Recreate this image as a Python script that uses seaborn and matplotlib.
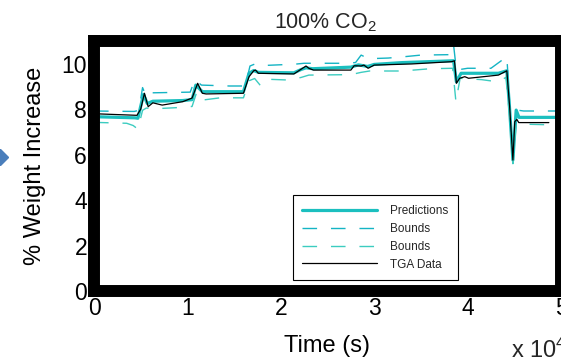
import matplotlib
matplotlib.use("Agg")
import matplotlib.pyplot as plt
import seaborn as sns
import pandas as pd
from matplotlib.lines import Line2D

sns.set_style("white")
plt.rcParams["font.family"] = ["Liberation Sans", "DejaVu Sans"]
plt.rcParams["mathtext.fontset"] = "custom"
plt.rcParams["mathtext.rm"] = "Liberation Sans"
plt.rcParams["mathtext.it"] = "Liberation Sans:italic"
plt.rcParams["mathtext.bf"] = "Liberation Sans:bold"

# ---------------- data ----------------
tga_t = [0, 4600, 5000, 5400, 5800, 6300, 7300, 9500, 10500, 11100, 11600, 12000,
         16000, 16600, 17100, 17300, 17600, 21400, 22700, 23000, 23500, 27500, 27850,
         28600, 28900, 29350, 30000, 34000, 38300, 38600, 38800, 39150, 39700, 40100,
         43300, 44200, 44500, 44850, 45050, 45270, 45480, 48700]
tga_v = [7.80, 7.73, 8.00, 8.70, 8.11, 8.28, 8.18, 8.33, 8.49, 9.14, 8.70, 8.67,
         8.70, 9.43, 9.69, 9.72, 9.58, 9.55, 9.90, 9.80, 9.72, 9.72, 9.91,
         9.90, 9.94, 9.80, 9.94, 9.99, 10.09, 10.13, 9.14, 9.36, 9.43, 9.36,
         9.50, 9.69, 8.11, 5.76, 7.45, 7.55, 7.41, 7.41]

pred_t = [0, 4400, 4700, 5300, 5700, 6300, 9500, 10500, 10900, 11600, 16000, 16600,
          17100, 17600, 21400, 22200, 22700, 23400, 27500, 28300, 29300, 30000, 33000,
          38500, 38800, 39300, 43300, 44200, 44500, 44850, 45200, 45500, 50000]
pred_v = [7.67, 7.62, 7.60, 8.65, 8.25, 8.35, 8.38, 8.42, 9.06, 8.77, 8.77, 9.58,
          9.70, 9.62, 9.60, 9.75, 9.82, 9.78, 9.85, 9.95, 9.88, 9.97, 10.05,
          10.13, 9.20, 9.58, 9.58, 9.69, 8.00, 5.76, 7.96, 7.64, 7.64]

upper_t = [0, 4300, 4800, 5200, 5600, 6200, 10300, 10800, 11500, 14500, 16200, 16700,
           17300, 18000, 21500, 22500, 26500, 28000, 28600, 29400, 31500, 33000, 35000,
           38200, 38500, 38800, 40000, 42500, 44200, 44500, 44850, 45300, 46000, 50000]
upper_v = [7.92, 7.90, 7.95, 8.95, 8.55, 8.72, 8.75, 9.30, 9.06, 9.02, 9.02, 9.90,
           10.00, 9.92, 9.98, 10.02, 10.02, 10.05, 10.38, 10.22, 10.25, 10.30, 10.38,
           10.40, 10.82, 9.72, 9.80, 9.80, 10.31, 8.30, 5.90, 7.96, 7.92, 7.92]

lower_t = [0, 3500, 4200, 4700, 5200, 5600, 6500, 9500, 10500, 11000, 11600, 13500,
           16000, 16600, 17200, 17800, 18400, 21000, 22200, 23000, 27500, 28600, 29500,
           33000, 36000, 38400, 38750, 39200, 41500, 43300, 44100, 44500, 44850, 45200, 50000]
lower_v = [7.42, 7.38, 7.28, 7.12, 7.95, 8.05, 8.02, 8.08, 8.12, 8.75, 8.40, 8.50,
           8.50, 9.25, 9.35, 9.05, 9.32, 9.28, 9.40, 9.50, 9.52, 9.62, 9.68,
           9.68, 9.78, 9.80, 8.33, 9.36, 9.30, 9.20, 9.40, 7.70, 5.60, 7.35, 7.30]

x_ticks = [0, 10000, 20000, 30000, 40000, 50000]
x_tick_labels = ["0", "1", "2", "3", "4", "5"]
y_ticks = [0, 2, 4, 6, 8, 10]

# ---------------- figure ----------------
W, H = 561, 361
fig = plt.figure(figsize=(W / 100, H / 100), dpi=100)
x0, x1, ytop, ybot = 94, 561, 41, 291
ax = fig.add_axes([x0 / W, (H - ybot) / H, (x1 - x0) / W, (ybot - ytop) / H])

pred_c = "#1BBFBF"
b1_c = "#14B4C4"
b2_c = "#3CCCC0"

sns.lineplot(x=pred_t, y=pred_v, ax=ax, color=pred_c, lw=2.3, estimator=None,
             sort=False, label="Predictions")
sns.lineplot(x=upper_t, y=upper_v, ax=ax, color=b1_c, lw=1.0, estimator=None,
             sort=False, linestyle=(0, (10.5, 10)), label="Bounds")
sns.lineplot(x=lower_t, y=lower_v, ax=ax, color=b2_c, lw=1.0, estimator=None,
             sort=False, linestyle=(0, (10.5, 10)), label="Bounds")
sns.lineplot(x=tga_t, y=tga_v, ax=ax, color="black", lw=0.9, estimator=None,
             sort=False, label="TGA Data")

ax.set_xlim(0, 50000)
ax.set_ylim(0, 11)
ax.set_xticks(x_ticks)
ax.set_xticklabels(x_tick_labels)
ax.set_yticks(y_ticks)
ax.tick_params(axis="both", length=0, labelsize=16.5, colors="black")
ax.tick_params(axis="x", pad=4.5)
ax.tick_params(axis="y", pad=5)

for s in ax.spines.values():
    s.set_visible(True)
    s.set_linewidth(8.6)
    s.set_color("black")
    s.set_capstyle("projecting")

ax.set_xlabel("Time (s)", fontsize=17, color="black")
ax.xaxis.label.set_va("baseline")
ax.xaxis.set_label_coords(0.5, (ybot - 352) / (ybot - ytop))
ax.set_ylabel("% Weight Increase", fontsize=17, color="black")
ax.yaxis.label.set_va("center")
ax.yaxis.set_label_coords((35 - x0) / (x1 - x0), 0.5)

ax.text(0.495, (ybot - 28) / (ybot - ytop), "100% CO$_2$", transform=ax.transAxes,
        ha="center", va="baseline", fontsize=15.5)

fig.text(511 / W, (H - 358) / H, "x 10$^{4}$", fontsize=17, ha="left", va="baseline")

leg = ax.legend(loc="lower left", bbox_to_anchor=((293 - x0) / (x1 - x0), (ybot - 280) / (ybot - ytop)),
                fontsize=8.5, handlelength=6.3, handletextpad=1.1, borderpad=0.8,
                labelspacing=0.5, fancybox=False, framealpha=1, borderaxespad=0)
leg.get_frame().set_edgecolor("black")
leg.get_frame().set_linewidth(0.8)

# small blue diamond at the left edge (slide arrow remnant)
fig.add_artist(Line2D([0.0], [(H - 157) / H], marker="D", markersize=8,
                      color="#4A7EBB", transform=fig.transFigure, clip_on=False))

fig.savefig("out.png", dpi=100)
